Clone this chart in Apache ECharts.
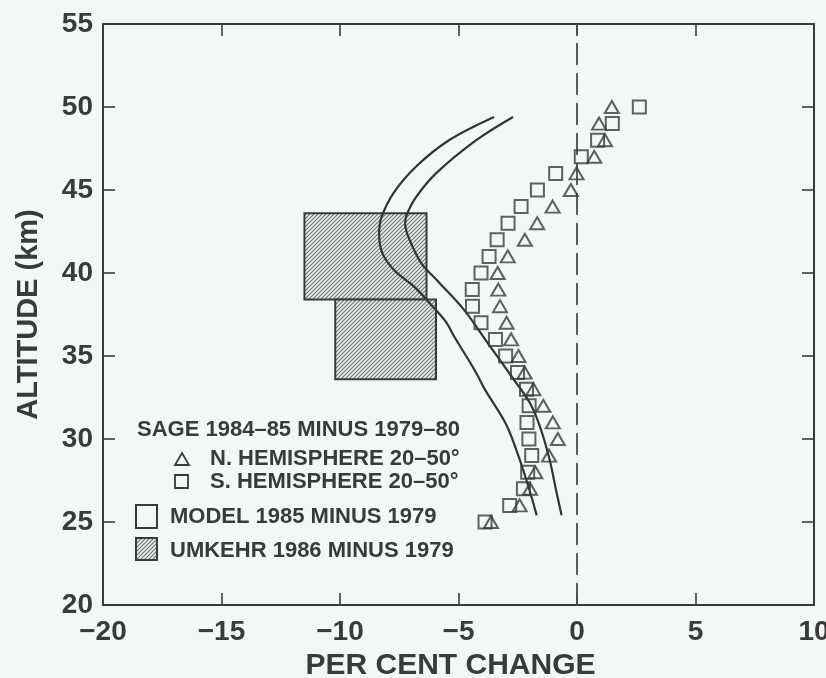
<!DOCTYPE html>
<html>
<head>
<meta charset="utf-8">
<script src="https://cdn.jsdelivr.net/npm/echarts@6/dist/echarts.min.js"></script>
<style>
html,body{margin:0;padding:0;background:#f2f8f8;}
#chart{width:826px;height:678px;}
</style>
</head>
<body>
<div id="chart"></div>
<script>
// ---- data ----
const altitudes = [25,26,27,28,29,30,31,32,33,34,35,36,37,38,39,40,41,42,43,44,45,46,47,48,49,50];
const northHemisphere = [-3.63,-2.42,-1.98,-1.76,-1.18,-0.81,-1.02,-1.42,-1.84,-2.21,-2.47,-2.78,-2.97,-3.25,-3.32,-3.35,-2.92,-2.20,-1.68,-1.03,-0.26,-0.02,0.73,1.18,0.93,1.47];
const southHemisphere = [-3.88,-2.84,-2.26,-2.08,-1.91,-2.03,-2.11,-2.02,-2.13,-2.51,-3.01,-3.44,-4.05,-4.41,-4.42,-4.05,-3.71,-3.37,-2.91,-2.36,-1.67,-0.90,0.18,0.87,1.49,2.63];
// model 1985 minus 1979 (two bounding curves): [per cent change, altitude]
const modelCurveLeft = [[-3.5,49.4],[-5.4,48.0],[-6.8,46.4],[-7.75,44.8],[-8.25,43.35],[-8.35,42.35],[-8.2,41.15],[-7.7,40.15],[-6.85,39.15],[-6.1,38.0],[-5.55,37.1],[-5.15,36.1],[-4.3,34.1],[-3.85,32.9],[-3.0,30.9],[-2.45,28.9],[-2.0,26.9],[-1.7,25.4]];
const modelCurveRight = [[-2.7,49.4],[-4.25,48.0],[-5.95,46.0],[-6.8,44.55],[-7.2,43.45],[-7.25,42.95],[-7.05,41.95],[-6.55,40.55],[-5.9,39.55],[-4.75,37.75],[-3.75,35.75],[-2.75,33.75],[-2.0,32.2],[-1.6,30.9],[-1.18,28.9],[-0.88,26.9],[-0.65,25.4]];
// Umkehr 1986 minus 1979 boxes: [xMin, xMax, altMin, altMax]
const umkehrBoxes = [[-11.5,-6.35,38.4,43.6],[-10.2,-5.95,33.6,38.4]];
const zeroLine = [[0,20],[0,55]];
const xTicks = {min:-20, max:10, interval:5};
const yTicks = {min:20, max:55, interval:5};

// ---- styles ----
const ink = '#3a3a3a';
const font = '"Liberation Sans", Arial, sans-serif';

function makeHatch(){
  const c = document.createElement('canvas');
  c.width = 4; c.height = 4;
  const g = c.getContext('2d');
  g.fillStyle = '#e8ecec'; g.fillRect(0,0,4,4);
  g.strokeStyle = '#707474'; g.lineWidth = 1.1;
  g.beginPath();
  g.moveTo(0,4); g.lineTo(4,0);
  g.moveTo(-1,1); g.lineTo(1,-1);
  g.moveTo(3,5); g.lineTo(5,3);
  g.stroke();
  return c;
}
const hatch = {image: makeHatch(), repeat: 'repeat'};

const chart = echarts.init(document.getElementById('chart'), null, {renderer:'canvas'});

const baseX = {
  type:'value', min:xTicks.min, max:xTicks.max, interval:xTicks.interval,
  axisLine:{show:true, onZero:false, lineStyle:{color:ink, width:2}},
  axisTick:{show:true, inside:true, length:12, lineStyle:{color:ink, width:1.6}},
  splitLine:{show:false}
};
const baseY = {
  type:'value', min:yTicks.min, max:yTicks.max, interval:yTicks.interval,
  axisLine:{show:true, onZero:false, lineStyle:{color:ink, width:2}},
  axisTick:{show:true, inside:true, length:12, lineStyle:{color:ink, width:1.6}},
  splitLine:{show:false}
};

const option = {
  backgroundColor:'#f2f8f8',
  animation:false,
  grid:{left:103, right:12, top:24, bottom:73, containLabel:false, outerBoundsMode:'none'},
  xAxis:[
    Object.assign({}, baseX, {
      position:'bottom',
      axisLabel:{color:ink, fontSize:28, fontWeight:'bold', fontFamily:font, margin:13,
        formatter:v => String(v).replace('-', '\u2212')},
      name:'PER CENT CHANGE', nameLocation:'middle', nameGap:46,
      nameTextStyle:{color:ink, fontSize:30, fontWeight:'bold', fontFamily:font, padding:[0,16,0,0]}
    }),
    Object.assign({}, baseX, {position:'top', axisLabel:{show:false}})
  ],
  yAxis:[
    Object.assign({}, baseY, {
      position:'left',
      axisLabel:{color:ink, fontSize:28, fontWeight:'bold', fontFamily:font, margin:10},
      name:'ALTITUDE (km)', nameLocation:'middle', nameGap:60, nameRotate:90,
      nameTextStyle:{color:ink, fontSize:29, fontWeight:'bold', fontFamily:font}
    }),
    Object.assign({}, baseY, {position:'right', axisLabel:{show:false}})
  ],
  series:[
    {
      name:'UMKEHR 1986 MINUS 1979', type:'custom', z:1,
      data: umkehrBoxes,
      encode:{x:[0,1], y:[2,3]},
      renderItem:function(params, api){
        const p1 = api.coord([api.value(0), api.value(3)]);
        const p2 = api.coord([api.value(1), api.value(2)]);
        return {type:'rect', shape:{x:p1[0], y:p1[1], width:p2[0]-p1[0], height:p2[1]-p1[1]},
          style:{fill:hatch, stroke:ink, lineWidth:2}};
      }
    },
    {
      name:'zero', type:'line', z:2, data:zeroLine, symbol:'none',
      lineStyle:{color:'#4a4a4a', width:1.8, type:[22,8]}
    },
    {
      name:'MODEL 1985 MINUS 1979', type:'line', z:3, data:modelCurveLeft, symbol:'none', smooth:0.35,
      lineStyle:{color:'#333', width:2.2}
    },
    {
      name:'MODEL 1985 MINUS 1979 b', type:'line', z:3, data:modelCurveRight, symbol:'none', smooth:0.35,
      lineStyle:{color:'#333', width:2.2}
    },
    {
      name:'N. HEMISPHERE 20–50°', type:'scatter', z:4,
      data: altitudes.map((a,i) => [northHemisphere[i], a]),
      symbol:'triangle', symbolSize:[14,12],
      itemStyle:{color:'rgba(0,0,0,0)', borderColor:ink, borderWidth:2}
    },
    {
      name:'S. HEMISPHERE 20–50°', type:'scatter', z:4,
      data: altitudes.map((a,i) => [southHemisphere[i], a]),
      symbol:'rect', symbolSize:13,
      itemStyle:{color:'rgba(0,0,0,0)', borderColor:ink, borderWidth:2}
    }
  ],
  graphic:[
    {type:'text', x:137, y:430, z:10, style:{text:'SAGE 1984\u201385 MINUS 1979\u201380', font:'bold 22px ' + font, fill:ink, verticalAlign:'middle'}},
    {type:'polygon', z:10, shape:{points:[[175,465],[189,465],[182,453]]}, style:{fill:'none', stroke:ink, lineWidth:1.8}},
    {type:'text', x:210, y:459, z:10, style:{text:'N. HEMISPHERE 20\u201350\u00b0', font:'bold 22px ' + font, fill:ink, verticalAlign:'middle'}},
    {type:'rect', z:10, shape:{x:175, y:475, width:13, height:13}, style:{fill:'none', stroke:ink, lineWidth:1.8}},
    {type:'text', x:210, y:482, z:10, style:{text:'S. HEMISPHERE 20\u201350\u00b0', font:'bold 22px ' + font, fill:ink, verticalAlign:'middle'}},
    {type:'rect', z:10, shape:{x:136, y:505, width:21, height:23}, style:{fill:'none', stroke:ink, lineWidth:2}},
    {type:'text', x:170, y:517, z:10, style:{text:'MODEL 1985 MINUS 1979', font:'bold 22px ' + font, fill:ink, verticalAlign:'middle'}},
    {type:'rect', z:10, shape:{x:136, y:538, width:21, height:22}, style:{fill:hatch, stroke:ink, lineWidth:2}},
    {type:'text', x:170, y:551, z:10, style:{text:'UMKEHR 1986 MINUS 1979', font:'bold 22px ' + font, fill:ink, verticalAlign:'middle'}}
  ]
};
chart.setOption(option);
</script>
</body>
</html>
